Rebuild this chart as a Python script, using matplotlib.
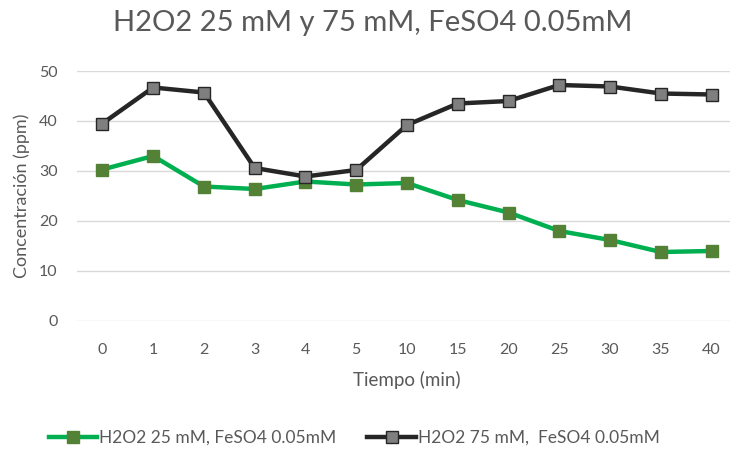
import matplotlib
matplotlib.use("Agg")
import matplotlib.pyplot as plt

categories = ["0", "1", "2", "3", "4", "5", "10", "15", "20", "25", "30", "35", "40"]
h2o2_25 = [30.3, 33.0, 26.9, 26.4, 27.9, 27.3, 27.6, 24.2, 21.7, 18.0, 16.2, 13.8, 14.0]
h2o2_75 = [39.5, 46.7, 45.7, 30.6, 28.9, 30.2, 39.2, 43.5, 44.0, 47.2, 46.9, 45.5, 45.3]
yticks = [0, 10, 20, 30, 40, 50]

plt.rcParams['font.family'] = ['Lato', 'DejaVu Sans']
txt = '#595959'

fig = plt.figure(figsize=(7.30, 4.49), dpi=100)
ax = fig.add_axes([77/730, 128/449, 660/730, 250/449])
x = list(range(len(categories)))
ax.plot(x, h2o2_25, color='#00B050', lw=3.2, marker='s', ms=9,
        mfc='#538135', mec='#538135', label='H2O2 25 mM, FeSO4 0.05mM', zorder=3)
ax.plot(x, h2o2_75, color='#262626', lw=3.2, marker='s', ms=9,
        mfc='#7F7F7F', mec='#262626', mew=1, label='H2O2 75 mM,  FeSO4 0.05mM', zorder=3)
ax.set_xlim(-0.5, len(categories) - 0.5)
ax.set_ylim(0, 50)
ax.set_yticks(yticks)
ax.set_xticks(x)
ax.set_xticklabels(categories)
ax.grid(axis='y', color='#D9D9D9', lw=1)
ax.set_axisbelow(True)
for s in ax.spines.values():
    s.set_visible(False)
ax.tick_params(length=0, colors=txt, labelsize=11.5)
ax.tick_params(axis='x', pad=16)
ax.tick_params(axis='y', pad=14)
ax.set_xlabel('Tiempo (min)', color=txt, fontsize=13.5, labelpad=10)
ax.set_ylabel('Concentración (ppm)', color=txt, fontsize=13, labelpad=6)
fig.text(0.511, 0.948, 'H2O2 25 mM y 75 mM, FeSO4 0.05mM', ha='center', va='center',
         color=txt, fontsize=21)
leg = fig.legend(loc='center', bbox_to_anchor=(0.485, 0.025), ncol=2, frameon=False,
                 fontsize=12.5, handlelength=2.8, handletextpad=0.1, columnspacing=1.8,
                 labelcolor=txt)
fig.savefig('out.png', dpi=100)
